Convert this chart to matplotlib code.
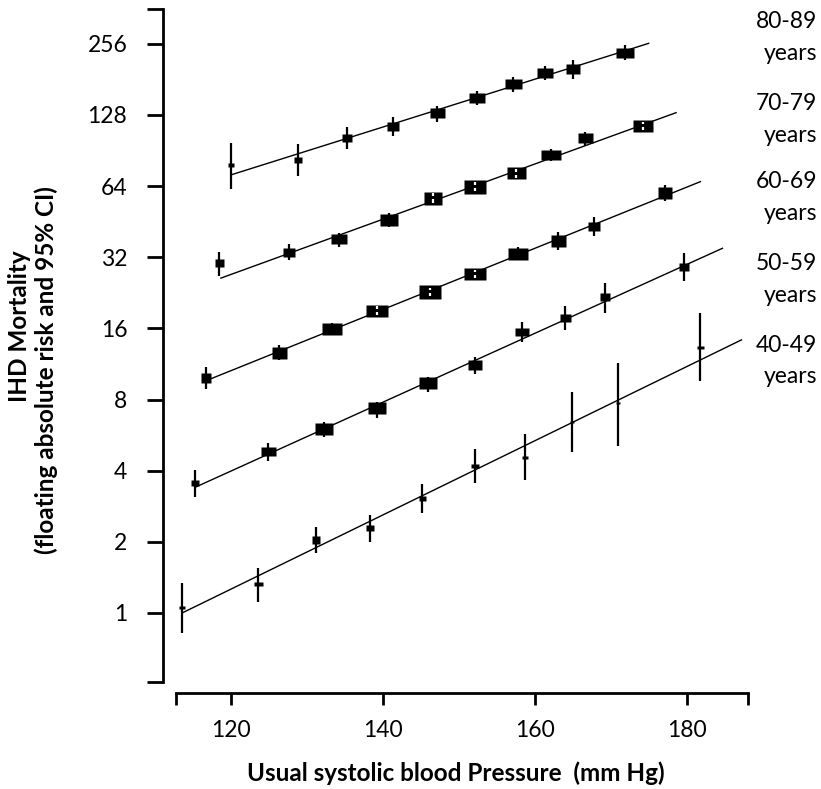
import matplotlib
matplotlib.use('Agg')
import matplotlib.pyplot as plt
from matplotlib.ticker import FixedLocator, NullFormatter

plt.rcParams['font.family'] = ['Lato', 'DejaVu Sans']

# data (systolic BP, floating absolute risk, 95% CI)
age_groups = ['40-49', '50-59', '60-69', '70-79', '80-89']

sbp_40 = [113.6, 123.6, 131.2, 138.3, 145.2, 152.1, 158.7, 164.9, 170.9, 181.8]
risk_40 = [1.057, 1.32, 2.04, 2.28, 3.06, 4.19, 4.59, 6.45, 7.76, 13.4]
lo_40 = [0.825, 1.116, 1.79, 1.99, 2.64, 3.54, 3.65, 4.81, 5.09, 9.58]
hi_40 = [1.335, 1.546, 2.30, 2.60, 3.51, 4.94, 5.72, 8.64, 11.46, 18.5]

sbp_50 = [115.3, 124.9, 132.3, 139.2, 145.9, 152.1, 158.3, 164.0, 169.3, 179.6]
risk_50 = [3.56, 4.85, 5.99, 7.35, 9.37, 11.2, 15.5, 17.7, 21.8, 29.0]
lo_50 = [3.11, 4.40, 5.57, 6.66, 8.64, 10.26, 13.97, 15.75, 18.5, 25.5]
hi_50 = [4.03, 5.26, 6.45, 7.83, 9.99, 12.07, 17.08, 19.9, 25.0, 33.3]

sbp_60 = [116.8, 126.4, 133.3, 139.3, 146.2, 152.2, 157.8, 163.1, 167.8, 177.2]
risk_60 = [9.84, 12.6, 15.86, 18.96, 22.9, 27.2, 33.0, 37.6, 43.4, 60.0]
lo_60 = [8.84, 11.8, 15.0, 18.2, 22.0, 26.2, 31.0, 34.4, 39.4, 55.5]
hi_60 = [11.0, 13.6, 16.8, 19.8, 23.8, 28.2, 35.2, 41.0, 47.2, 64.7]

sbp_70 = [118.5, 127.7, 134.3, 140.8, 146.6, 152.2, 157.5, 162.2, 166.6, 174.3]
risk_70 = [30.2, 33.8, 38.1, 46.0, 57.2, 63.6, 72.5, 86.7, 102.0, 115.0]
lo_70 = [26.7, 31.2, 35.3, 43.0, 54.5, 61.0, 69.5, 82.0, 94.6, 110.0]
hi_70 = [33.8, 36.4, 40.4, 49.2, 60.0, 66.3, 75.5, 91.5, 108.0, 120.0]

sbp_80 = [120.0, 128.9, 135.3, 141.4, 147.2, 152.4, 157.1, 161.3, 165.0, 171.9]
risk_80 = [78.6, 82.5, 102.6, 115.3, 130.8, 151.5, 173.0, 193.0, 199.7, 234.8]
lo_80 = [62.0, 70.8, 91.6, 104.5, 119.8, 140.6, 160.5, 180.0, 181.2, 218.6]
hi_80 = [97.7, 96.2, 114.0, 125.8, 139.6, 162.0, 185.8, 206.0, 218.6, 253.0]

# box sizes (pixels) ~ amount of information per group
box_w = [
    [6.7, 9, 8.7, 8.7, 7, 8, 6.7, 5, 5, 7],
    [8, 15, 18, 17.3, 18, 13.3, 13.3, 11, 10, 9.3],
    [10, 15, 19.3, 21.7, 21.7, 21.7, 19.3, 15, 12, 14.7],
    [9, 12.7, 16.7, 18.7, 18, 21.7, 19, 19.7, 15, 20],
    [6.7, 8, 10.7, 11.7, 15, 15.7, 17, 15.7, 14.3, 17.3],
]
box_h = [
    [3, 4.3, 7.3, 5.7, 5, 4.7, 3, 2, 2, 3],
    [6, 9, 11.7, 12.7, 11.7, 10.7, 7.7, 8.3, 7.3, 7.3],
    [9.3, 11.7, 11, 11.7, 13.3, 11.7, 11.7, 11.7, 9, 11.7],
    [8, 9, 9.3, 11.7, 13, 13.3, 11.7, 10.7, 10.7, 12],
    [4, 6, 7.3, 9, 10.5, 10.5, 10.5, 10.5, 10.5, 10.5],
]

# fitted lines (start and end)
fit_x = [(113.6, 187.2), (115.3, 184.7), (117.0, 181.8), (118.7, 178.6), (120.0, 175.0)]
fit_y = [(1.0, 14.3), (3.40, 34.9), (9.68, 66.8), (26.1, 130.8), (71.3, 257.0)]

sbp = [sbp_40, sbp_50, sbp_60, sbp_70, sbp_80]
risk = [risk_40, risk_50, risk_60, risk_70, risk_80]
lo = [lo_40, lo_50, lo_60, lo_70, lo_80]
hi = [hi_40, hi_50, hi_60, hi_70, hi_80]

yticks = [1, 2, 4, 8, 16, 32, 64, 128, 256]
xticks = [120, 140, 160, 180]

fig = plt.figure(figsize=(8.21, 7.89), dpi=100)
ax = fig.add_axes([0.2144, 0.1360, 0.6961, 0.8522])
ax.set_yscale('log', base=2)
ax.set_xlim(112.8, 188)
ax.set_ylim(0.512, 358)

px2pt = 72 / 100
px_per_oct = 71.15  # vertical pixels per doubling
for i in range(len(age_groups)):
    ax.plot(fit_x[i], fit_y[i], color='black', lw=1.0, zorder=2)
    ax.vlines(sbp[i], lo[i], hi[i], color='black', lw=1.6, zorder=3)
    for x, y, w, h, l, u in zip(sbp[i], risk[i], box_w[i], box_h[i], lo[i], hi[i]):
        a = h / w
        verts = [(-1, -a), (1, -a), (1, a), (-1, a), (-1, -a)]
        ax.plot([x], [y], marker=verts, ms=w * px2pt, color='black',
                mec='none', ls='none', zorder=4)
        # CI that fits inside its box is drawn in white
        f = 2 ** ((h / 2) / px_per_oct)
        if l > y / f and u < y * f:
            g = 2 ** (1.5 / px_per_oct)
            ax.vlines([x, x], [l, y * g], [y / g, u], color='white', lw=1.6, zorder=5)

ax.set_yticks(yticks)
ax.set_yticklabels([str(t) for t in yticks])
ax.set_xticks(xticks)
ax.set_xticklabels([str(t) for t in xticks])
ax.yaxis.set_minor_locator(FixedLocator([0.512, 358]))
ax.yaxis.set_minor_formatter(NullFormatter())
ax.xaxis.set_minor_locator(FixedLocator([112.8, 188]))
ax.xaxis.set_minor_formatter(NullFormatter())

for s in ['top', 'right']:
    ax.spines[s].set_visible(False)
ax.spines['left'].set_position(('outward', 9.6))
ax.spines['bottom'].set_position(('outward', 7.9))
ax.spines['left'].set_linewidth(2)
ax.spines['bottom'].set_linewidth(2)
ax.tick_params(axis='y', which='both', length=11.5, width=2, pad=14, labelsize=16.5)
ax.tick_params(axis='x', which='both', length=8.9, width=2, pad=11, labelsize=16.5)

fig.text(456 / 821, 1 - 773 / 789, 'Usual systolic blood Pressure  (mm Hg)',
         ha='center', va='center', fontsize=17.5, fontweight='bold')
fig.text(20 / 821, 1 - 326 / 789, 'IHD Mortality', rotation=90,
         ha='center', va='center', fontsize=17.5, fontweight='bold')
fig.text(46 / 821, 1 - 370 / 789, '(floating absolute risk and 95% CI)', rotation=90,
         ha='center', va='center', fontsize=17.5, fontweight='bold')

label_y = [(345, 376.7), (263.3, 295), (181.7, 213), (103.3, 135), (21.7, 53.3)]
for name, (y1, y2) in zip(age_groups, label_y):
    fig.text(817 / 821, 1 - y1 / 789, name, ha='right', va='center', fontsize=16.5)
    fig.text(817 / 821, 1 - y2 / 789, 'years', ha='right', va='center', fontsize=16.5)

fig.savefig('out.png', dpi=100)
